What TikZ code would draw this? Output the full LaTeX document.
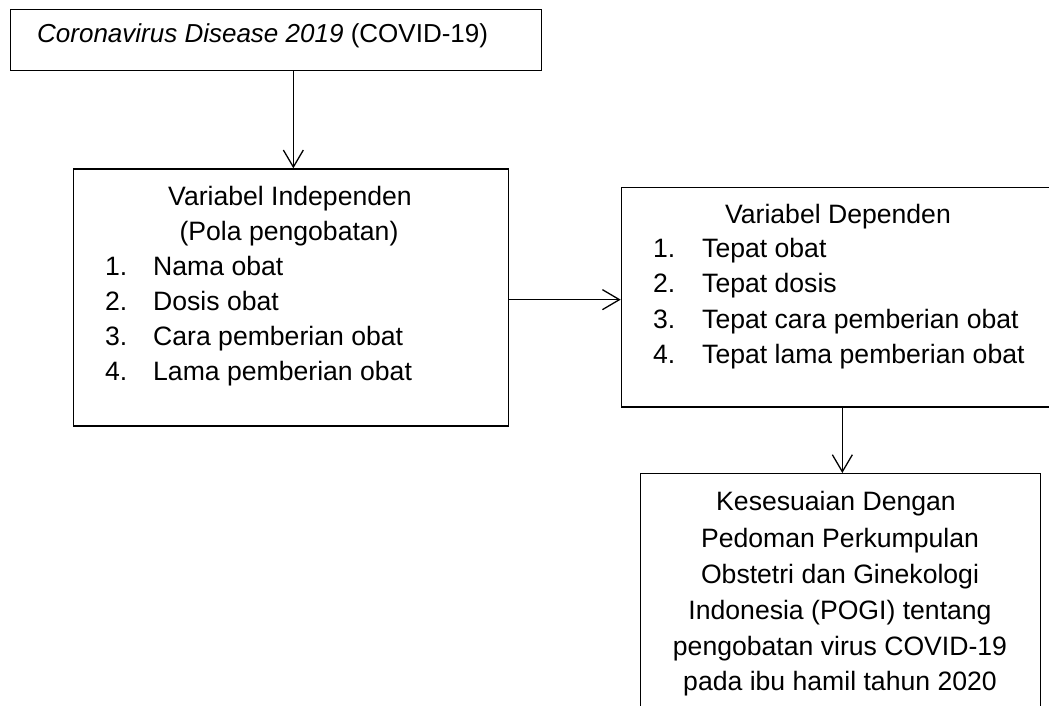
\documentclass[tikz,border=0pt]{standalone}
\usepackage{fontspec}
\setmainfont{Liberation Sans}
\usetikzlibrary{arrows.meta}
\begin{document}
\begin{tikzpicture}[x=1pt,y=-1pt,
  box/.style={draw, line width=1.3pt, inner sep=0pt, anchor=north west},
  txt/.style={font=\fontsize{26.6}{31}\selectfont, inner sep=0pt},
  conn/.style={line width=1.3pt, -{Straight Barb[length=17pt,width=20pt,line width=1.3pt]}}]
\useasboundingbox (0,0) rectangle (1049,706);
\clip (0,0) rectangle (1049,706);
% boxes
\node[box, minimum width=531pt, minimum height=61pt] (b1) at (10,9) {};
\node[box, minimum width=435pt, minimum height=257pt] (b2) at (72.7,168.3) {};
\node[box, minimum width=436pt, minimum height=219.5pt] (b3) at (620.7,186.7) {};
\node[box, minimum width=400pt, minimum height=260pt] (b4) at (640,473) {};
% box 1 text
\node[txt, font=\fontsize{26}{31}\selectfont, anchor=base west] (t1) at (37,43) {\textit{Coronavirus Disease 2019} (COVID-19)};
% box 2 text
\node[txt, anchor=base] (h2a) at (290,205) {Variabel Independen};
\node[txt, anchor=base] (h2b) at (289,240) {(Pola pengobatan)};
\node[txt, anchor=base west] (n21) at (105,275) {1.};
\node[txt, anchor=base west] (i21) at (153,275) {Nama obat};
\node[txt, anchor=base west] (n22) at (105,310) {2.};
\node[txt, anchor=base west] (i22) at (153,310) {Dosis obat};
\node[txt, anchor=base west] (n23) at (105,345) {3.};
\node[txt, anchor=base west] (i23) at (153,345) {Cara pemberian obat};
\node[txt, anchor=base west] (n24) at (105,380) {4.};
\node[txt, anchor=base west] (i24) at (153,380) {Lama pemberian obat};
% box 3 text
\node[txt, anchor=base] (h3) at (838,223) {Variabel Dependen};
\node[txt, anchor=base west] (n31) at (653,257) {1.};
\node[txt, anchor=base west] (i31) at (702,257) {Tepat obat};
\node[txt, anchor=base west] (n32) at (653,292) {2.};
\node[txt, anchor=base west] (i32) at (702,292) {Tepat dosis};
\node[txt, anchor=base west] (n33) at (653,328) {3.};
\node[txt, anchor=base west] (i33) at (702,328) {Tepat cara pemberian obat};
\node[txt, anchor=base west] (n34) at (653,363) {4.};
\node[txt, anchor=base west] (i34) at (702,363) {Tepat lama pemberian obat};
% box 4 text
\node[txt, anchor=base] (l41) at (836,510) {Kesesuaian Dengan};
\node[txt, anchor=base] (l42) at (840,547) {Pedoman Perkumpulan};
\node[txt, anchor=base] (l43) at (840,583) {Obstetri dan Ginekologi};
\node[txt, anchor=base] (l44) at (840,619) {Indonesia (POGI) tentang};
\node[txt, anchor=base] (l45) at (840,655) {pengobatan virus COVID-19};
\node[txt, anchor=base] (l46) at (840,690) {pada ibu hamil tahun 2020};
% connectors
\coordinate (v1) at ([xshift=17.2pt]b1.south);
\draw[conn] (v1) -- (v1 |- b2.north);
\coordinate (h1) at ([yshift=-2.2pt]b2.east);
\draw[conn] (h1) -- (h1 -| b3.west);
\coordinate (v2) at ([xshift=3pt]b3.south);
\draw[conn] (v2) -- (v2 |- b4.north);
\end{tikzpicture}
\end{document}
